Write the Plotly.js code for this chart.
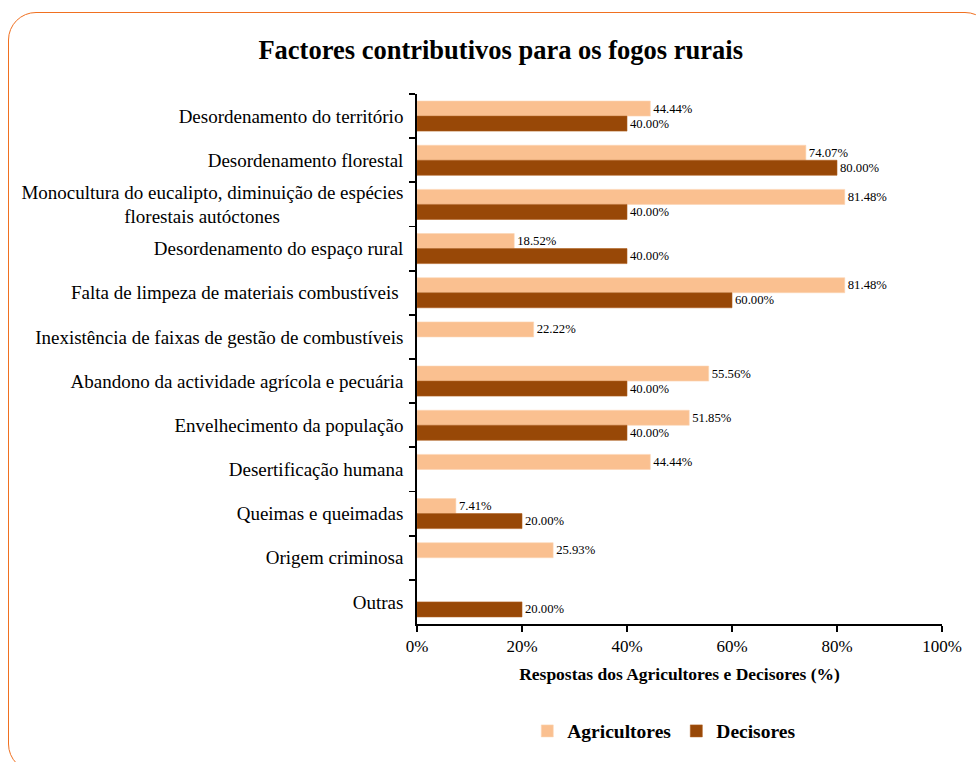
<!DOCTYPE html>
<html>
<head>
<meta charset="utf-8">
<script src="https://cdn.plot.ly/plotly-3.0.1.min.js"></script>
<style>
  html, body { margin: 0; padding: 0; width: 976px; height: 762px; overflow: hidden; background: #fff; }
  #frame { position: absolute; left: 8px; top: 12px; width: 985px; height: 760px;
           border: 1.6px solid #F07020; border-radius: 28px; box-sizing: border-box; }
  #chart { position: absolute; left: 0; top: 0; width: 976px; height: 762px; }
</style>
</head>
<body>
<div id="frame"></div>
<div id="chart"></div>
<script>
var categories = [
  "Desordenamento do território",
  "Desordenamento florestal",
  "Monocultura do eucalipto, diminuição de espécies<br>florestais autóctones" + "\u00a0".repeat(26),
  "Desordenamento do espaço rural",
  "Falta de limpeza de materiais combustíveis\u00a0",
  "Inexistência de faixas de gestão de combustíveis",
  "Abandono da actividade agrícola e pecuária",
  "Envelhecimento da população",
  "Desertificação humana",
  "Queimas e queimadas",
  "Origem criminosa",
  "Outras"
];
var agricultores = [44.44, 74.07, 81.48, 18.52, 81.48, 22.22, 55.56, 51.85, 44.44, 7.41, 25.93, null];
var decisores    = [40.00, 80.00, 40.00, 40.00, 60.00, null, 40.00, 40.00, null, 20.00, null, 20.00];
var xTickVals = [0, 20, 40, 60, 80, 100];
var xTickText = ["0%", "20%", "40%", "60%", "80%", "100%"];

var serif = "Liberation Serif, Times New Roman, serif";

var traces = [
  {
    type: "bar", orientation: "h", name: "Agricultores",
    y: categories, x: agricultores,
    marker: { color: "#FAC090", line: { color: "#FCD5B4", width: 0.6 } },
    texttemplate: "%{x:.2f}%", textposition: "outside", cliponaxis: false,
    textfont: { family: serif, size: 12.7, color: "#000" },
    hoverinfo: "skip"
  },
  {
    type: "bar", orientation: "h", name: "Decisores",
    y: categories, x: decisores,
    marker: { color: "#984807", line: { color: "#B0601E", width: 0.6 } },
    texttemplate: "%{x:.2f}%", textposition: "outside", cliponaxis: false,
    textfont: { family: serif, size: 12.7, color: "#000" },
    hoverinfo: "skip"
  }
];

var layout = {
  width: 976, height: 762,
  paper_bgcolor: "rgba(0,0,0,0)", plot_bgcolor: "rgba(0,0,0,0)",
  margin: { l: 417, r: 34, t: 94, b: 137 },
  barmode: "group", bargap: 0.32, bargroupgap: 0,
  showlegend: true,
  title: {
    text: "<b>Factores contributivos para os fogos rurais</b>",
    font: { family: serif, size: 26.5, color: "#000" },
    xref: "container", x: 0.513, xanchor: "center",
    yref: "container", y: 1 - 50 / 762, yanchor: "middle"
  },
  xaxis: {
    range: [0, 100], tickvals: xTickVals, ticktext: xTickText,
    ticks: "outside", ticklen: 6, tickwidth: 1.8, tickcolor: "#000",
    showline: true, linecolor: "#000", linewidth: 1.8,
    showgrid: false, zeroline: false, fixedrange: true,
    tickfont: { family: serif, size: 17, color: "#000" },
    title: { text: "<b>Respostas dos Agricultores e Decisores (%)</b>",
             font: { family: serif, size: 17.5, color: "#000" }, standoff: 12 }
  },
  xaxis2: {
    overlaying: "x", range: [0, 100], tickvals: xTickVals,
    ticks: "inside", ticklen: 6, tickwidth: 1.8, tickcolor: "#000",
    showticklabels: false, showline: false, showgrid: false, zeroline: false, fixedrange: true
  },
  yaxis: {
    type: "category", autorange: "reversed",
    tickson: "boundaries", ticks: "outside", ticklen: 6, tickwidth: 1.8, tickcolor: "#000",
    showline: true, linecolor: "#000", linewidth: 1.8,
    showgrid: false, zeroline: false, fixedrange: true,
    tickfont: { family: serif, size: 19, color: "#000" },
    ticklabelstandoff: 8
  },
  yaxis2: {
    overlaying: "y", range: [11.5, -0.5], tick0: -0.5, dtick: 1,
    ticks: "inside", ticklen: 6, tickwidth: 1.8, tickcolor: "#000",
    showticklabels: false, showline: false, showgrid: false, zeroline: false, fixedrange: true
  },
  legend: {
    orientation: "h", xref: "paper", x: 0.471, xanchor: "center",
    y: -0.2, yanchor: "middle",
    font: { family: serif, size: 19.5, color: "#000", weight: "bold" },
    itemwidth: 30, traceorder: "normal"
  }
};

Plotly.newPlot("chart", traces, layout, { displayModeBar: false, staticPlot: true });
</script>
</body>
</html>
